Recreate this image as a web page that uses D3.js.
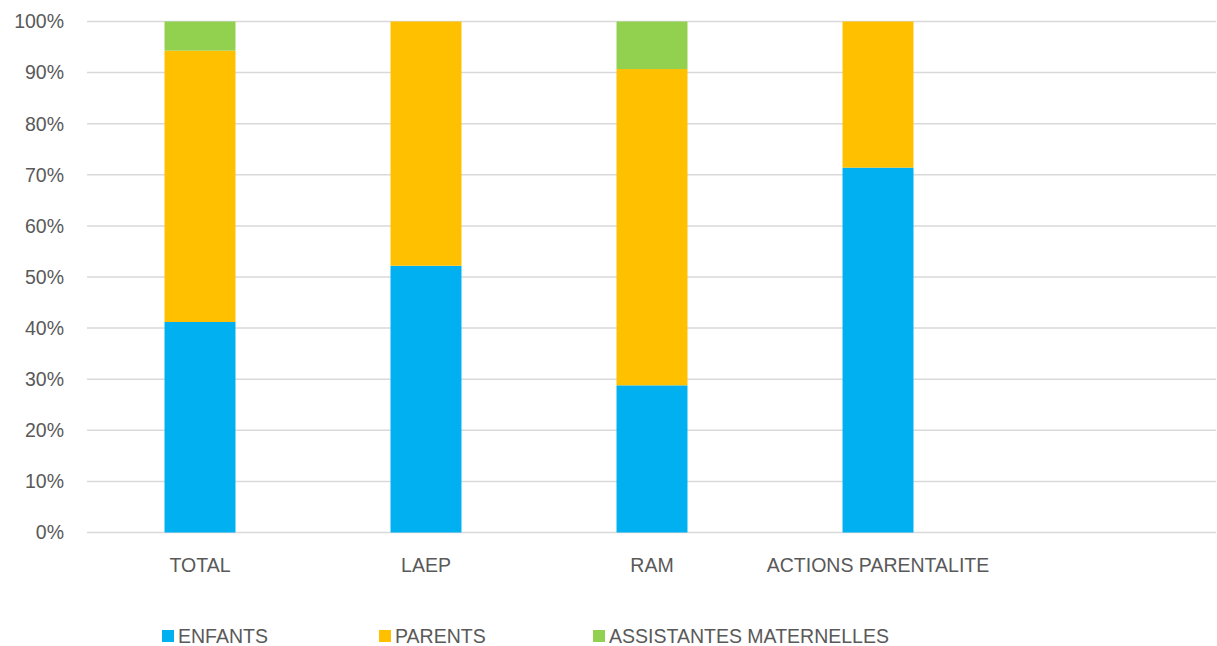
<!DOCTYPE html>
<html>
<head>
<meta charset="utf-8">
<script src="https://cdn.jsdelivr.net/npm/d3@7"></script>
<style>
  body { margin: 0; background: #fff; }
  svg text { font-family: "Liberation Sans", Arial, sans-serif; fill: #595959; }
</style>
</head>
<body>
<svg id="chart" width="1217" height="646"></svg>
<script>
// categories (the last one is an empty slot, as in the original sheet)
const categories = ["TOTAL", "LAEP", "RAM", "ACTIONS PARENTALITE", ""];
const seriesNames = ["ENFANTS", "PARENTS", "ASSISTANTES MATERNELLES"];
const seriesColors = ["#00b0f0", "#ffc000", "#92d050"];
// percentages per category
const enfants = [41.2, 52.2, 28.8, 71.4, 0];
const parents = [53.1, 47.8, 61.9, 28.6, 0];
const assistantes = [5.7, 0, 9.3, 0, 0];
const yTicks = [0, 10, 20, 30, 40, 50, 60, 70, 80, 90, 100];

const svg = d3.select("#chart");
const margin = { left: 87, right: 0, top: 21.5, bottom: 113.5 };
const width = 1217, height = 646;

const x = d3.scaleBand()
  .domain(categories)
  .range([margin.left, width - margin.right])
  .padding(0);

const y = d3.scaleLinear()
  .domain([0, 100])
  .range([height - margin.bottom, margin.top]);

// gridlines
svg.append("g")
  .selectAll("line")
  .data(yTicks)
  .join("line")
  .attr("x1", margin.left)
  .attr("x2", width - 1)
  .attr("y1", d => y(d))
  .attr("y2", d => y(d))
  .attr("stroke", "#d9d9d9")
  .attr("stroke-width", 1.5);

// y labels
svg.append("g")
  .selectAll("text")
  .data(yTicks)
  .join("text")
  .attr("x", 64)
  .attr("y", d => y(d))
  .attr("dy", "0.35em")
  .attr("text-anchor", "end")
  .attr("font-size", 19.5)
  .text(d => d + "%");

// stacked bars
const rows = categories.map((c, i) => ({
  cat: c, ENFANTS: enfants[i], PARENTS: parents[i], "ASSISTANTES MATERNELLES": assistantes[i]
}));
const stack = d3.stack().keys(seriesNames)(rows);
const barW = x.bandwidth() * 0.314;

svg.append("g")
  .selectAll("g")
  .data(stack)
  .join("g")
  .attr("fill", (d, i) => seriesColors[i])
  .selectAll("rect")
  .data(d => d.filter(p => p[1] - p[0] > 0))
  .join("rect")
  .attr("x", d => x(d.data.cat) + (x.bandwidth() - barW) / 2)
  .attr("width", barW)
  .attr("y", d => y(d[1]))
  .attr("height", d => y(d[0]) - y(d[1]));

// x labels
svg.append("g")
  .selectAll("text")
  .data(categories.filter(c => c))
  .join("text")
  .attr("x", d => x(d) + x.bandwidth() / 2)
  .attr("y", 572)
  .attr("text-anchor", "middle")
  .attr("font-size", 19.5)
  .text(d => d);

// legend
const legendX = [162, 379, 593];
const lg = svg.append("g")
  .selectAll("g")
  .data(seriesNames)
  .join("g")
  .attr("transform", (d, i) => `translate(${legendX[i]},636)`);
lg.append("rect")
  .attr("x", 0).attr("y", -6)
  .attr("width", 12).attr("height", 12)
  .attr("fill", (d, i) => seriesColors[i]);
lg.append("text")
  .attr("x", 16)
  .attr("dy", "0.35em")
  .attr("font-size", 19.5)
  .text(d => d);
</script>
</body>
</html>
